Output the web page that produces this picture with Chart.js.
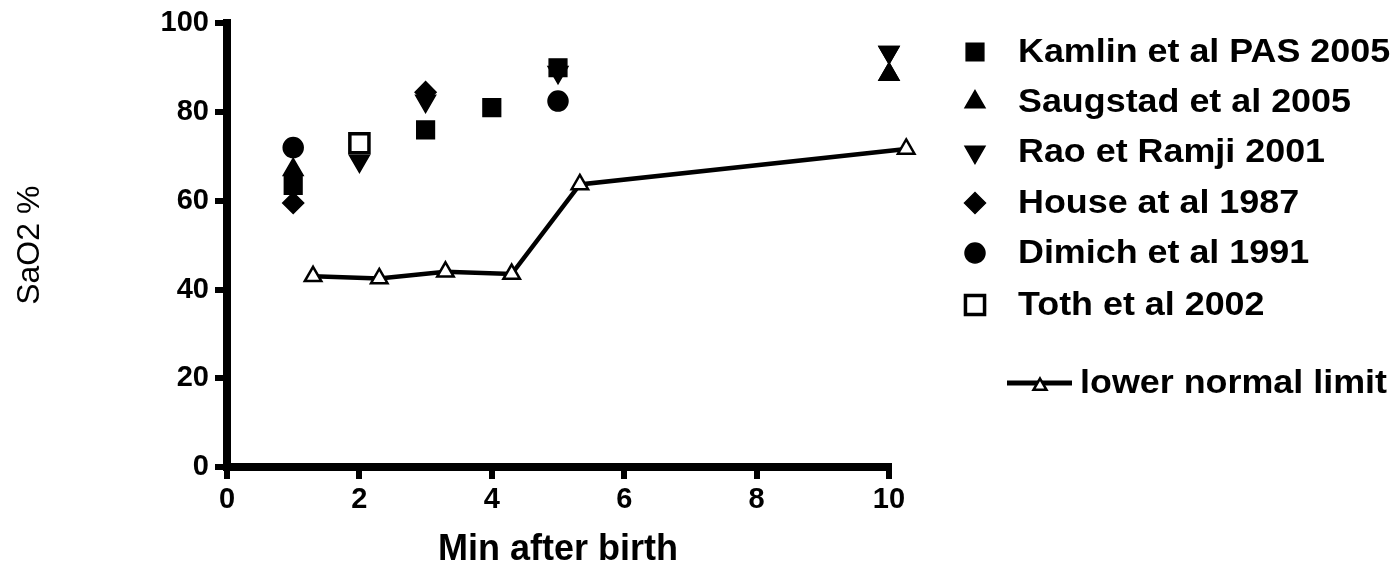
<!DOCTYPE html>
<html>
<head>
<meta charset="utf-8">
<script src="https://cdn.jsdelivr.net/npm/chart.js@4/dist/chart.umd.min.js"></script>
<style>
  html, body { margin: 0; padding: 0; background: #fff; }
  #wrap { width: 1396px; height: 568px; }
</style>
</head>
<body>
<div id="wrap"><canvas id="chart" width="1396" height="568"></canvas></div>
<script>
// values (x = minutes after birth, y = SaO2 %)
const kamlinX = [1, 3, 4, 5];
const kamlinY = [63.5, 76, 81, 90];
const saugstadX = [1, 10];
const saugstadY = [67, 88.5];
const raoX = [2, 3, 5, 10];
const raoY = [69, 82.5, 89, 93.5];
const houseX = [1, 3];
const houseY = [59.5, 84.5];
const dimichX = [1, 5];
const dimichY = [72, 82.5];
const tothX = [2];
const tothY = [73];
const lowerX = [1.3, 2.3, 3.3, 4.3, 5.33, 10.26];
const lowerY = [43, 42.5, 44, 43.5, 63.7, 71.7];

const xTicks = [0, 2, 4, 6, 8, 10];
const yTicks = [0, 20, 40, 60, 80, 100];

const pts = (xs, ys) => xs.map((x, i) => ({ x: x, y: ys[i] }));

function marker(label, xs, ys, style, radius, extra) {
    return Object.assign({
        label: label,
        data: pts(xs, ys),
        pointStyle: style,
        pointRadius: radius,
        pointHoverRadius: radius,
        backgroundColor: "#000",
        borderColor: "#000",
        pointBorderWidth: 1.5,
        clip: false
    }, extra || {});
}

const datasets = [
    marker("Kamlin et al PAS 2005", kamlinX, kamlinY, "rect", 12.5),
    marker("Saugstad et al 2005", saugstadX, saugstadY, "triangle", 11.5),
    marker("Rao et Ramji 2001", raoX, raoY, "triangle", 11.5, { pointRotation: 180 }),
    marker("House at al 1987", houseX, houseY, "rectRot", 10.5),
    marker("Dimich et al 1991", dimichX, dimichY, "circle", 10),
    marker("Toth et al 2002", tothX, tothY, "rect", 13.5, { backgroundColor: "#fff", pointBorderWidth: 3.5 }),
    {
        label: "lower normal limit",
        data: pts(lowerX, lowerY),
        showLine: true,
        borderColor: "#000",
        borderWidth: 4.5,
        pointStyle: "triangle",
        pointRadius: 9.5,
        pointHoverRadius: 9.5,
        pointBackgroundColor: "#fff",
        pointBorderColor: "#000",
        pointBorderWidth: 2.5,
        clip: false
    }
];

// points that sit just past the axis end are skipped by Chart.js, draw them anyway
const overflowPoints = {
    id: "overflowPoints",
    afterDatasetsDraw(chart) {
        const ctx = chart.ctx;
        const a = chart.chartArea;
        ctx.save();
        chart.data.datasets.forEach((ds, i) => {
            chart.getDatasetMeta(i).data.forEach(el => {
                const o = el.options;
                const m = o.radius + o.borderWidth;
                if (el.x - m >= a.left && el.x + m <= a.right && el.y - m >= a.top && el.y + m <= a.bottom) return;
                ctx.fillStyle = o.backgroundColor;
                ctx.strokeStyle = o.borderColor;
                ctx.lineWidth = o.borderWidth;
                Chart.helpers.drawPoint(ctx, o, el.x, el.y);
            });
        });
        ctx.restore();
    }
};

// legend drawn at the right, with the gap before the line entry
const legendRows = [52, 102, 152, 203, 253, 305, 383];

const sideLegend = {
    id: "sideLegend",
    afterDraw(chart) {
        const ctx = chart.ctx;
        const drawPoint = Chart.helpers.drawPoint;
        chart.data.datasets.forEach((ds, i) => {
            const y = legendRows[i];
            ctx.save();
            ctx.fillStyle = ds.pointBackgroundColor || ds.backgroundColor;
            ctx.strokeStyle = ds.pointBorderColor || ds.borderColor;
            let textX = 1018;
            if (ds.showLine) {
                ctx.lineWidth = ds.borderWidth + 0.5;
                ctx.beginPath();
                ctx.moveTo(1007, y);
                ctx.lineTo(1072, y);
                ctx.stroke();
                ctx.lineWidth = 2.5;
                ctx.fillStyle = "#fff";
                drawPoint(ctx, { pointStyle: "triangle", radius: 7.5, borderWidth: 2.5, rotation: 0 }, 1040, y + 3);
                textX = 1080;
            } else {
                ctx.lineWidth = ds.pointBorderWidth;
                drawPoint(ctx, {
                    pointStyle: ds.pointStyle,
                    radius: ds.pointRadius,
                    borderWidth: ds.pointBorderWidth,
                    rotation: ds.pointRotation || 0
                }, 975, y);
            }
            ctx.fillStyle = "#000";
            ctx.font = "bold 34px Arial, 'Liberation Sans', sans-serif";
            ctx.textBaseline = "middle";
            ctx.textAlign = "left";
            ctx.translate(textX, y + 1);
            ctx.scale(1.055, 1);
            ctx.fillText(ds.label, 0, 0);
            ctx.restore();
        });
    }
};

const tickFont = { family: "Arial, 'Liberation Sans', sans-serif", size: 29, weight: "bold" };

new Chart(document.getElementById("chart"), {
    type: "scatter",
    data: { datasets: datasets },
    options: {
        responsive: false,
        animation: false,
        devicePixelRatio: 1,
        layout: { padding: { top: 21, right: 507, left: 0, bottom: 0 } },
        plugins: {
            legend: { display: false },
            tooltip: { enabled: false }
        },
        scales: {
            x: {
                type: "linear",
                min: 0,
                max: 10,
                afterBuildTicks: (s) => { s.ticks = xTicks.map(v => ({ value: v })); },
                afterFit: (s) => { s.height = 101; },
                border: { display: true, width: 8, color: "#000" },
                grid: { drawOnChartArea: false, drawTicks: true, tickLength: 12, tickWidth: 6, lineWidth: 6, color: "#000", tickColor: "#000" },
                ticks: { color: "#000", font: tickFont, padding: 4, maxRotation: 0 },
                title: {
                    display: true,
                    text: "Min after birth",
                    color: "#000",
                    font: { family: "Arial, 'Liberation Sans', sans-serif", size: 36, weight: "bold", lineHeight: 1 },
                    padding: { top: 0, bottom: 0 }
                }
            },
            y: {
                type: "linear",
                min: 0,
                max: 100,
                afterBuildTicks: (s) => { s.ticks = yTicks.map(v => ({ value: v })); },
                afterFit: (s) => { s.width = 227; },
                border: { display: true, width: 8, color: "#000" },
                grid: { drawOnChartArea: false, drawTicks: true, tickLength: 12, tickWidth: 6, lineWidth: 6, color: "#000", tickColor: "#000" },
                ticks: { color: "#000", font: tickFont, padding: 6 },
                title: {
                    display: true,
                    text: "SaO2 %",
                    color: "#000",
                    font: { family: "Arial, 'Liberation Sans', sans-serif", size: 32, weight: "normal", lineHeight: 1 },
                    padding: { top: 14, bottom: 0 }
                }
            }
        }
    },
    plugins: [overflowPoints, sideLegend]
});
</script>
</body>
</html>
